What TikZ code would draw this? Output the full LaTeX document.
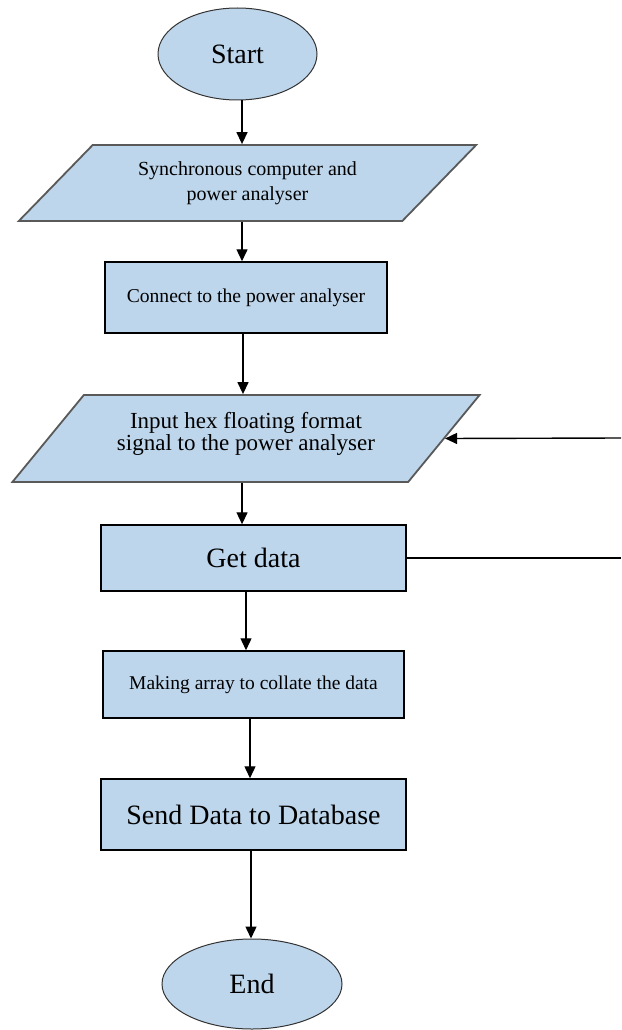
\documentclass[tikz,border=0pt]{standalone}
\usepackage{fontspec}
\setmainfont{Liberation Serif}
\usetikzlibrary{shapes.geometric,arrows.meta}
\definecolor{boxfill}{RGB}{190,214,236}
\begin{document}
\begin{tikzpicture}[x=1pt,y=-1pt,
  term/.style={ellipse,draw=black!80,line width=1pt,fill=boxfill,inner sep=0pt,font=\fontsize{28}{30}\selectfont},
  io/.style={trapezium,trapezium stretches=true,draw=black!65,line width=1.8pt,fill=boxfill,inner sep=0pt,align=center},
  proc/.style={rectangle,draw=black,line width=1.5pt,fill=boxfill,inner sep=0pt,align=center},
  arr/.style={line width=1.4pt,-{Triangle[length=12pt,width=11pt]}},
  ln/.style={line width=1.4pt}]
\useasboundingbox (0,0) rectangle (621,1030);
\node[term,minimum width=159pt,minimum height=92pt] (start) at (237.5,54) {Start};
\node[io,trapezium left angle=39.6,trapezium right angle=140.4,minimum width=459pt,minimum height=76pt,font=\fontsize{20}{25}\selectfont] (p1) at (247.5,183) {Synchronous computer and\\power analyser};
\node[proc,minimum width=282pt,minimum height=71pt,font=\fontsize{19.6}{23}\selectfont] (b2) at (246,297.5) {Connect to the power analyser};
\node[io,trapezium left angle=43.1,trapezium right angle=136.9,minimum width=468pt,minimum height=87pt,font=\fontsize{23}{22}\selectfont] (p2) at (246,438.5) {Input hex floating format\\signal to the power analyser\\[-7pt]};
\node[proc,minimum width=305pt,minimum height=66pt,font=\fontsize{28}{30}\selectfont] (get) at (253.5,558) {Get data};
\node[proc,minimum width=301pt,minimum height=67pt,font=\fontsize{19.5}{23}\selectfont] (make) at (253.5,684.5) {Making array to collate the data};
\node[proc,minimum width=305pt,minimum height=71pt,font=\fontsize{28}{30}\selectfont] (send) at (253.5,814.5) {Send Data to Database};
\node[term,minimum width=180pt,minimum height=90pt] (end) at (252,984) {End};
\coordinate (r1) at (621,438);
\coordinate (r2) at (621,558);
\draw[arr] ([xshift=4.5pt]start.south) -- ([xshift=4.5pt]start.south |- p1.north);
\draw[arr] ([xshift=-5.5pt]p1.south) -- ([xshift=-5.5pt]p1.south |- b2.north);
\draw[arr] ([xshift=-3pt]b2.south) -- ([xshift=-3pt]b2.south |- p2.north);
\draw[arr] ([xshift=-4pt]p2.south) -- ([xshift=-4pt]p2.south |- get.north);
\draw[arr] ([xshift=-7.5pt]get.south) -- ([xshift=-7.5pt]get.south |- make.north);
\draw[arr] ([xshift=-3.5pt]make.south) -- ([xshift=-3.5pt]make.south |- send.north);
\draw[arr] ([xshift=-2.5pt]send.south) -- ([xshift=-2.5pt]send.south |- end.north);
\draw[ln] (get.east) -- (r2);
\draw[arr] (r1) -- (p2.0);
\end{tikzpicture}
\end{document}
